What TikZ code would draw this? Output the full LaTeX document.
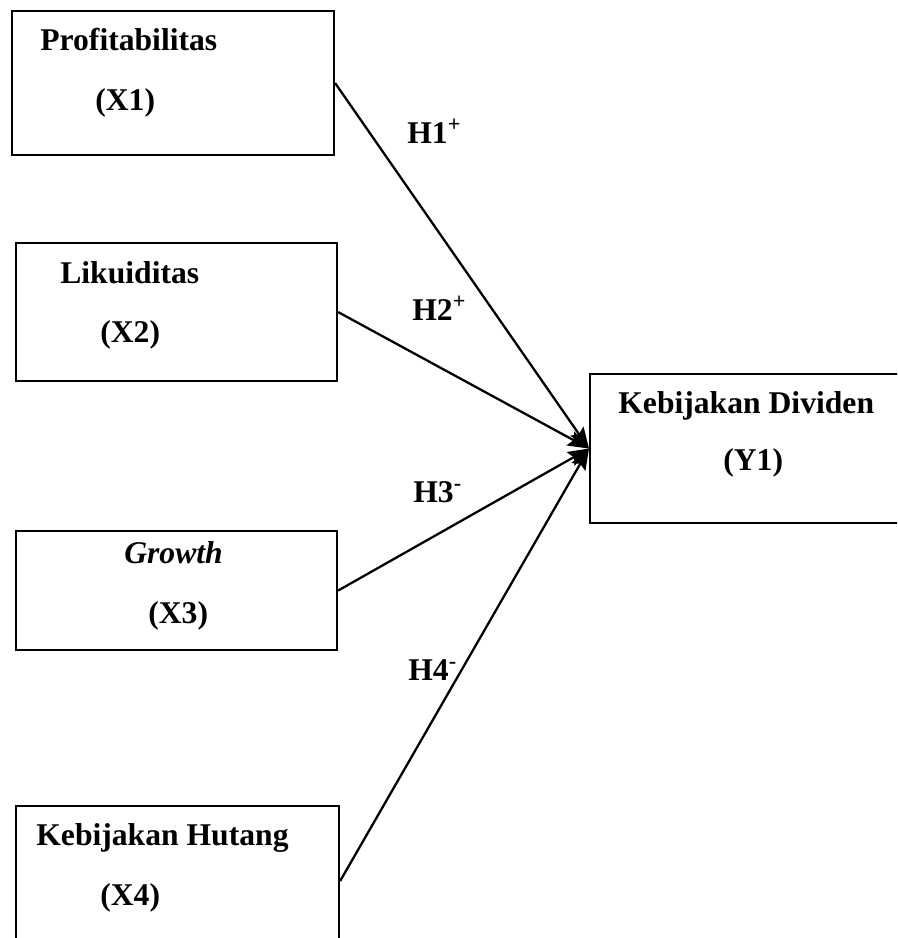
\documentclass[tikz,border=0pt]{standalone}
\usepackage{fontspec}
\setmainfont{Liberation Serif}
\usetikzlibrary{arrows.meta, positioning}
\tikzset{
  varbox/.style={
    draw=black, line width=1.2pt, inner sep=0pt, anchor=north west,
    minimum width=#1
  },
  varbox/.default=6.42cm,
  txt/.style={
    anchor=base west, inner sep=0pt,
    font=\fontsize{18}{22}\selectfont\bfseries
  },
  hyp/.style={
    anchor=base west, inner sep=0pt,
    font=\fontsize{18}{22}\selectfont\bfseries
  },
  arr/.style={-{Stealth[length=12pt,width=9pt,inset=2pt]}, line width=1.3pt},
}

\begin{document}
\begin{tikzpicture}
  \useasboundingbox (0,0) rectangle (17.94,-18.76);
  \clip (0,0) rectangle (17.94,-18.76);

  % Variabel
  \node[varbox=6.44cm, minimum height=2.88cm] (prof) at (0.22,-0.20) {};
  \node[varbox, minimum height=2.76cm] (likd) at (0.30,-4.84) {};
  \node[varbox, minimum height=2.38cm] (grow) at (0.30,-10.60) {};
  \node[varbox=6.46cm, minimum height=3.00cm] (hutg) at (0.30,-16.10) {};
  \node[varbox, minimum height=2.98cm] (divd) at (11.78,-7.46) {};

  \node[txt] (profa) at (0.80,-1.00) {Profitabilitas};
  \node[txt] (profb) at (1.90,-2.20) {(X1)};
  \node[txt] (likda) at (1.20,-5.66) {Likuiditas};
  \node[txt] (likdb) at (2.00,-6.84) {(X2)};
  \node[txt] (growa) at (2.48,-11.26) {\itshape Growth};
  \node[txt] (growb) at (2.96,-12.46) {(X3)};
  \node[txt] (hutga) at (0.72,-16.90) {Kebijakan Hutang};
  \node[txt] (hutgb) at (2.00,-18.10) {(X4)};
  \node[txt] (divda) at (12.36,-8.26) {Kebijakan Dividen};
  \node[txt] (divdb) at (14.46,-9.40) {(Y1)};

  % Hipotesis
  \node[hyp] (h1) at (8.14,-2.86) {H1\textsuperscript{+}};
  \node[hyp] (h2) at (8.24,-6.40) {H2\textsuperscript{+}};
  \node[hyp] (h3) at (8.26,-10.04) {H3\textsuperscript{-}};
  \node[hyp] (h4) at (8.16,-13.60) {H4\textsuperscript{-}};

  \draw[arr] (prof.east) -- (divd.west);
  \draw[arr] (likd.east) -- (divd.west);
  \draw[arr] (grow.east) -- (divd.west);
  \draw[arr] (hutg.east) -- (divd.west);
\end{tikzpicture}
\end{document}
